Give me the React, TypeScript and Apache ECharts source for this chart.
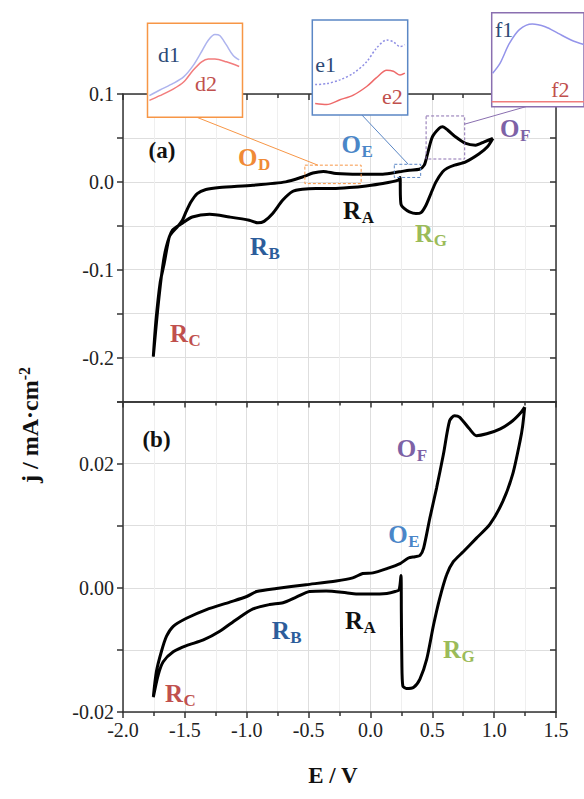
import React, { useEffect, useRef } from 'react';
import * as echarts from 'echarts';

// ---------- data (E / V, j / mA·cm-2) ----------
const xTickValues = [-2.0, -1.5, -1.0, -0.5, 0.0, 0.5, 1.0, 1.5];
const yTicksA = [-0.2, -0.1, 0.0, 0.1];
const yTicksB = [-0.02, 0.0, 0.02];

// panel (a): one closed CV loop, starting at the positive vertex
const cvA: number[][] = [
  [0.99, 0.0494], [0.946, 0.04], [0.879, 0.032], [0.77, 0.0228], [0.68, 0.019], [0.62, 0.0155],
  [0.583, 0.0114], [0.53, 0.0], [0.489, -0.0133], [0.449, -0.0266], [0.409, -0.035], [0.368, -0.0361],
  [0.315, -0.0342], [0.27, -0.03], [0.248, -0.026], [0.242, -0.015], [0.24, 0.005], [0.225, 0.002],
  [0.1, -0.0019], [-0.035, -0.0046], [-0.17, -0.0065], [-0.3, -0.0076], [-0.44, -0.0076], [-0.55, -0.0085],
  [-0.63, -0.011], [-0.71, -0.021], [-0.79, -0.036], [-0.86, -0.045], [-0.91, -0.0466], [-0.98, -0.0436],
  [-1.14, -0.04], [-1.3, -0.037], [-1.44, -0.04], [-1.52, -0.047], [-1.6, -0.055], [-1.65, -0.074],
  [-1.68, -0.097], [-1.72, -0.146], [-1.755, -0.199], [-1.735, -0.16], [-1.7, -0.115], [-1.667, -0.093],
  [-1.626, -0.0625], [-1.6, -0.057], [-1.56, -0.051], [-1.52, -0.0436], [-1.49, -0.034], [-1.45, -0.0227],
  [-1.4, -0.0133], [-1.33, -0.0087], [-1.22, -0.0064], [-0.95, -0.0038], [-0.685, 0.0], [-0.55, 0.0055],
  [-0.465, 0.01], [-0.38, 0.0118], [-0.277, 0.0095], [-0.09, 0.0087], [0.1, 0.0087], [0.234, 0.0114],
  [0.315, 0.0133], [0.395, 0.0144], [0.435, 0.019], [0.462, 0.0323], [0.5, 0.051], [0.556, 0.061],
  [0.583, 0.0627], [0.624, 0.059], [0.69, 0.051], [0.77, 0.0437], [0.85, 0.0418], [0.92, 0.0456],
  [0.99, 0.0494],
];

// panel (b)
const cvB: number[][] = [
  [1.247, 0.0291], [1.23, 0.026], [1.21, 0.0237], [1.15, 0.0183], [1.07, 0.0139], [0.965, 0.0102],
  [0.857, 0.008], [0.75, 0.0058], [0.67, 0.0042], [0.616, 0.0021], [0.56, -0.0017], [0.51, -0.006],
  [0.455, -0.0115], [0.4, -0.0147], [0.35, -0.016], [0.29, -0.0162], [0.262, -0.0158], [0.254, -0.012],
  [0.25, -0.004], [0.247, 0.002], [0.232, -0.0003], [0.2, -0.0006], [0.133, -0.0009], [0.0, -0.001],
  [-0.116, -0.001], [-0.196, -0.0008], [-0.358, -0.0005], [-0.492, -0.0006], [-0.6, -0.0015],
  [-0.707, -0.0024], [-0.815, -0.0027], [-0.949, -0.0034], [-1.083, -0.0051], [-1.218, -0.007],
  [-1.35, -0.0084], [-1.487, -0.0093], [-1.594, -0.0103], [-1.675, -0.0119], [-1.715, -0.014],
  [-1.755, -0.0176], [-1.73, -0.0135], [-1.69, -0.0103], [-1.648, -0.0078], [-1.594, -0.0062],
  [-1.487, -0.0049], [-1.325, -0.0035], [-1.137, -0.0023], [-1.0, -0.0014], [-0.92, -0.0006],
  [-0.76, -0.0001], [-0.52, 0.0005], [-0.277, 0.0011], [-0.143, 0.0016], [-0.062, 0.0023], [0.02, 0.0024],
  [0.133, 0.0031], [0.24, 0.0039], [0.307, 0.0048], [0.36, 0.005], [0.4, 0.0052], [0.43, 0.0064],
  [0.48, 0.0112], [0.535, 0.0161], [0.59, 0.0215], [0.64, 0.0269], [0.68, 0.0277], [0.72, 0.0275],
  [0.8, 0.0256], [0.857, 0.0245], [0.94, 0.0248], [1.05, 0.0256], [1.15, 0.0269], [1.22, 0.0283],
  [1.247, 0.0291],
];

// insets (relative units 0..1 inside each inset)
const insetD1: number[][] = [
  [0.02, 0.23], [0.13, 0.29], [0.27, 0.36], [0.38, 0.43], [0.48, 0.55], [0.57, 0.7], [0.64, 0.82],
  [0.71, 0.88], [0.76, 0.87], [0.83, 0.77], [0.9, 0.66], [0.965, 0.61],
];
const insetD2: number[][] = [
  [0.02, 0.18], [0.13, 0.23], [0.27, 0.3], [0.38, 0.375], [0.48, 0.5], [0.57, 0.59], [0.64, 0.62],
  [0.71, 0.62], [0.83, 0.59], [0.965, 0.54],
];
const insetE1: number[][] = [
  [0.03, 0.32], [0.15, 0.33], [0.29, 0.37], [0.43, 0.44], [0.57, 0.56], [0.67, 0.7], [0.78, 0.79],
  [0.85, 0.77], [0.92, 0.72], [0.97, 0.74],
];
const insetE2: number[][] = [
  [0.03, 0.12], [0.15, 0.11], [0.29, 0.16], [0.43, 0.21], [0.57, 0.3], [0.67, 0.39], [0.78, 0.47],
  [0.85, 0.46], [0.92, 0.42], [0.97, 0.44],
];
const insetF1: number[][] = [
  [0.01, 0.355], [0.09, 0.46], [0.19, 0.67], [0.3, 0.82], [0.44, 0.88], [0.58, 0.85], [0.72, 0.78],
  [0.86, 0.71], [1.0, 0.66],
];
const insetF2: number[][] = [[0.0, 0.053], [1.0, 0.053]];

// annotations: zoom boxes (data coords) and their connectors
const zoomBoxes = [
  { e0: -0.53, e1: -0.075, j0: -0.002, j1: 0.019, color: '#F79646', from: [-0.425, 0.019], inset: 2, to: [0.52, 0] },
  { e0: 0.193, e1: 0.406, j0: 0.005, j1: 0.02, color: '#5B87C5', from: [0.306, 0.02], inset: 4, to: [0.52, 0] },
  { e0: 0.45, e1: 0.762, j0: 0.026, j1: 0.075, color: '#8A6FB0', from: [0.762, 0.0657], inset: 6, to: [0.37, 0] },
];

const ORANGE = '#F08A36';
const BLUE = '#4A86C8';
const PURPLE = '#7D62A6';
const BLACK = '#111';
const DKBLUE = '#2C5D9B';
const RED = '#C0504D';
const GREEN = '#9BBB59';
const NAVY = '#2D4A76';

// peak labels: [seriesIndex, letter, subscript, color, E, j]
const peakLabels: [number, string, string, string, number, number][] = [
  [0, 'O', 'D', ORANGE, -1.07, 0.028],
  [0, 'O', 'E', BLUE, -0.233, 0.043],
  [0, 'O', 'F', PURPLE, 1.048, 0.0607],
  [0, 'R', 'A', BLACK, -0.221, -0.0323],
  [0, 'R', 'B', DKBLUE, -0.973, -0.0739],
  [0, 'R', 'C', RED, -1.62, -0.173],
  [0, 'R', 'G', GREEN, 0.361, -0.059],
  [1, 'O', 'F', PURPLE, 0.213, 0.0224],
  [1, 'O', 'E', BLUE, 0.144, 0.0086],
  [1, 'R', 'A', BLACK, -0.205, -0.0053],
  [1, 'R', 'B', DKBLUE, -0.798, -0.0069],
  [1, 'R', 'G', GREEN, 0.587, -0.01],
  [1, 'R', 'C', RED, -1.66, -0.017],
];
const panelTags: [number, string, number, number][] = [
  [0, '(a)', -1.685, 0.036],
  [1, '(b)', -1.729, 0.0239],
];
const insetLabels: [number, string, string, number, number][] = [
  [2, 'd1', NAVY, 0.11, 0.67],
  [2, 'd2', RED, 0.5, 0.36],
  [4, 'e1', NAVY, 0.03, 0.53],
  [4, 'e2', RED, 0.73, 0.2],
  [6, 'f1', NAVY, 0.035, 0.82],
  [6, 'f2', RED, 0.645, 0.18],
];

const SERIF = '"Liberation Serif", "Times New Roman", serif';
const AXIS_COLOR = '#333';

export default function App() {
  const ref = useRef<HTMLDivElement>(null);

  useEffect(() => {
    document.body.style.margin = '0';
    if (!ref.current) return;
    const chart = echarts.init(ref.current, undefined, { renderer: 'svg' });

    const lineStyle = { color: AXIS_COLOR, width: 1.5 };
    const split = { show: true, lineStyle: { color: '#dedede', width: 1 } };
    const minorSplit = { show: true, lineStyle: { color: '#efefef', width: 1 } };
    const labelStyle = { fontFamily: SERIF, fontSize: 20, color: '#222' };

    const xCommon = {
      type: 'value',
      min: xTickValues[0],
      max: xTickValues[xTickValues.length - 1],
      interval: xTickValues[1] - xTickValues[0],
      axisLine: { show: true, onZero: false, lineStyle },
    };
    const hiddenAxis = (grid: number) => ({ type: 'value', gridIndex: grid, min: 0, max: 1, show: false });

    const fmtA = (v: number) => {
      const k = v * 10;
      if (Math.abs(k - Math.round(k)) > 1e-6) return '';
      return (Math.round(k) / 10).toFixed(1);
    };
    const fmtB = (v: number) => {
      const k = Math.round(v * 100);
      return k % 2 === 0 ? (k / 100).toFixed(2) : '';
    };

    const xAxis: any[] = [
      { ...xCommon, gridIndex: 0, position: 'bottom', axisTick: { show: false }, axisLabel: { show: false }, splitLine: split, minorTick: { show: false, splitNumber: 2 }, minorSplitLine: minorSplit },
      { ...xCommon, gridIndex: 0, position: 'top', axisTick: { show: true, inside: true, length: 6, lineStyle }, minorTick: { show: true, splitNumber: 2, length: 4, lineStyle }, axisLabel: { show: false }, splitLine: { show: false } },
      { ...xCommon, gridIndex: 1, position: 'bottom', axisTick: { show: true, inside: false, length: 6, lineStyle }, minorTick: { show: true, splitNumber: 2, length: 4, lineStyle }, axisLabel: { ...labelStyle, margin: 8, formatter: (v: number) => v.toFixed(1) }, splitLine: split, minorSplitLine: minorSplit },
      { ...xCommon, gridIndex: 1, position: 'top', axisTick: { show: true, inside: true, length: 6, lineStyle }, minorTick: { show: true, splitNumber: 2, length: 4, lineStyle }, axisLabel: { show: false }, splitLine: { show: false } },
      hiddenAxis(2), hiddenAxis(3), hiddenAxis(4),
    ];

    const yA = { type: 'value', min: -0.25, max: yTicksA[yTicksA.length - 1], interval: 0.05, axisLine: { show: true, onZero: false, lineStyle } };
    const yB = { type: 'value', min: yTicksB[0], max: 0.03, interval: 0.01, axisLine: { show: true, onZero: false, lineStyle } };
    const yAxis: any[] = [
      { ...yA, gridIndex: 0, position: 'left', axisTick: { show: true, length: 6, lineStyle }, axisLabel: { ...labelStyle, margin: 9, formatter: fmtA }, splitLine: split },
      { ...yA, gridIndex: 0, position: 'right', axisTick: { show: true, inside: true, length: 6, lineStyle }, axisLabel: { show: false }, splitLine: { show: false } },
      { ...yB, gridIndex: 1, position: 'left', axisTick: { show: true, length: 6, lineStyle }, axisLabel: { ...labelStyle, margin: 9, formatter: fmtB }, splitLine: split },
      { ...yB, gridIndex: 1, position: 'right', axisTick: { show: true, inside: true, length: 6, lineStyle }, axisLabel: { show: false }, splitLine: { show: false } },
      hiddenAxis(2), hiddenAxis(3), hiddenAxis(4),
    ];

    const insetGrid = (left: number, top: number, width: number, height: number, color: string) => ({
      show: true, left, top, width, height, borderColor: color, borderWidth: 1.5, backgroundColor: '#fff', z: 10,
    });

    const cvSeries = (data: number[][], axis: number) => ({
      type: 'line', data, xAxisIndex: axis, yAxisIndex: axis, showSymbol: false, symbol: 'none',
      smooth: 0.25, lineStyle: { color: '#000', width: 3 }, z: 3, silent: true,
    });
    const insetSeries = (data: number[][], axis: number, color: string, type: any = 'solid') => ({
      type: 'line', data, xAxisIndex: axis, yAxisIndex: axis, showSymbol: false, symbol: 'none',
      smooth: 0.3, lineStyle: { color, width: 1.5, type }, z: 12, silent: true,
    });

    chart.setOption({
      animation: false,
      grid: [
        { left: 123, top: 94, width: 433, height: 307.5 },
        { left: 123, top: 401.5, width: 433, height: 310.5 },
        insetGrid(147.5, 23.3, 95, 94, '#F79646'),
        insetGrid(312.3, 20, 95.4, 95, '#5B87C5'),
        insetGrid(491.7, 12.7, 95, 94, '#8A6FB0'),
      ],
      xAxis,
      yAxis,
      series: [
        cvSeries(cvA, 0),
        cvSeries(cvB, 2),
        insetSeries(insetD1, 4, '#AEB4EE'),
        insetSeries(insetD2, 4, '#F27C7C'),
        insetSeries(insetE1, 5, '#8F8FE4', [2, 2]),
        insetSeries(insetE2, 5, '#EE6A6A'),
        insetSeries(insetF1, 6, '#9494EA'),
        insetSeries(insetF2, 6, '#F07C7C'),
      ],
    });

    const px = (s: number, p: number[]) => chart.convertToPixel({ seriesIndex: s }, p) as number[];
    const ctx = document.createElement('canvas').getContext('2d')!;
    const measure = (font: string, t: string) => {
      ctx.font = font;
      return ctx.measureText(t).width;
    };

    const elements: any[] = [];
    zoomBoxes.forEach((b) => {
      const tl = px(0, [b.e0, b.j1]);
      const br = px(0, [b.e1, b.j0]);
      elements.push({
        type: 'rect', silent: true, z: 6,
        shape: { x: tl[0], y: tl[1], width: br[0] - tl[0], height: br[1] - tl[1] },
        style: { fill: 'none', stroke: b.color, lineWidth: 1, lineDash: [3, 2] },
      });
      const a = px(0, b.from);
      const c = px(b.inset, b.to);
      elements.push({
        type: 'line', silent: true, z: 6,
        shape: { x1: a[0], y1: a[1], x2: c[0], y2: c[1] },
        style: { stroke: b.color, lineWidth: 1 },
      });
    });

    const mainFont = `bold 25px ${SERIF}`;
    const subFont = `bold 17px ${SERIF}`;
    peakLabels.forEach(([s, main, sub, color, e, j]) => {
      const p = px(s, [e, j]);
      const w = measure(mainFont, main);
      elements.push({
        type: 'text', silent: true, z: 20, x: p[0], y: p[1],
        style: { text: main, font: mainFont, fill: color, textAlign: 'left', verticalAlign: 'middle', textVerticalAlign: 'middle' },
      });
      elements.push({
        type: 'text', silent: true, z: 20, x: p[0] + w + 0.5, y: p[1] + 7,
        style: { text: sub, font: subFont, fill: color, textAlign: 'left', verticalAlign: 'middle', textVerticalAlign: 'middle' },
      });
    });
    panelTags.forEach(([s, t, e, j]) => {
      const p = px(s, [e, j]);
      elements.push({
        type: 'text', silent: true, z: 20, x: p[0], y: p[1],
        style: { text: t, font: `bold 23px ${SERIF}`, fill: '#111', textAlign: 'center', verticalAlign: 'middle', textVerticalAlign: 'middle' },
      });
    });
    insetLabels.forEach(([s, t, color, fx, fy]) => {
      const p = px(s, [fx, fy]);
      elements.push({
        type: 'text', silent: true, z: 20, x: p[0], y: p[1],
        style: { text: t, font: `22px ${SERIF}`, fill: color, textAlign: 'left', verticalAlign: 'middle', textVerticalAlign: 'middle' },
      });
    });

    // axis titles
    elements.push({
      type: 'text', silent: true, z: 20, x: 333, y: 775,
      style: { text: 'E / V', font: `bold 23px ${SERIF}`, fill: '#111', textAlign: 'center', verticalAlign: 'middle', textVerticalAlign: 'middle' },
    });
    elements.push({
      type: 'text', silent: true, z: 20, x: 29, y: 425, rotation: Math.PI / 2,
      style: {
        text: '{a|j / mA·cm}{b|-2}',
        fill: '#111',
        textAlign: 'center', verticalAlign: 'middle', textVerticalAlign: 'middle',
        rich: {
          a: { fontFamily: SERIF, fontWeight: 'bold', fontSize: 24, lineHeight: 26, verticalAlign: 'bottom', fill: '#111', color: '#111' },
          b: { fontFamily: SERIF, fontWeight: 'bold', fontSize: 16, lineHeight: 16, verticalAlign: 'top', fill: '#111', color: '#111' },
        },
      },
    });

    chart.setOption({ graphic: { elements } });

    return () => chart.dispose();
  }, []);

  return <div ref={ref} style={{ width: 584, height: 799 }} />;
}
